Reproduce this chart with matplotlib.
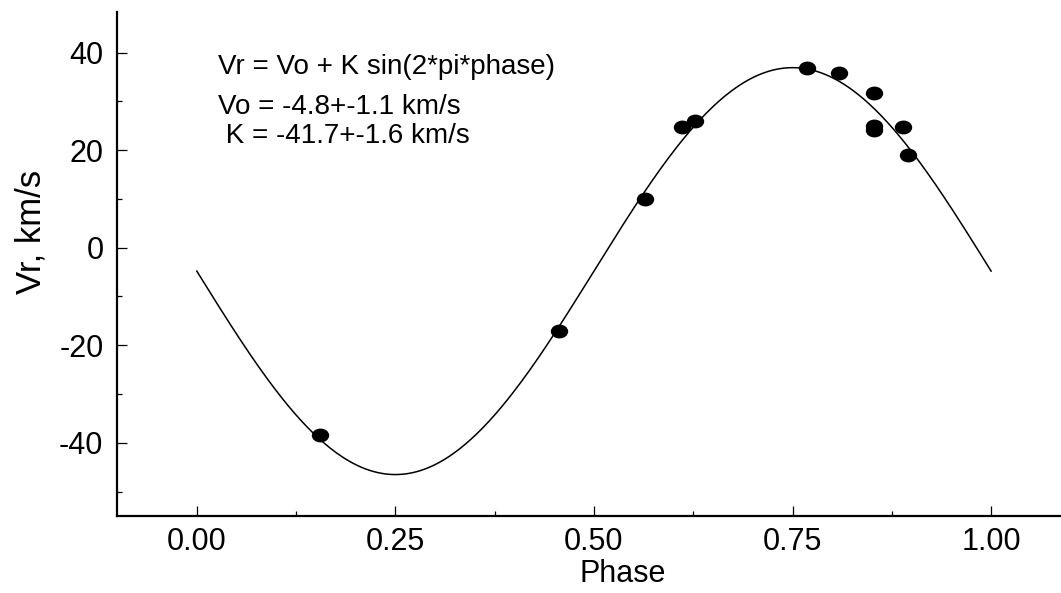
import numpy as np
import matplotlib
matplotlib.use("Agg")
import matplotlib.pyplot as plt
from matplotlib.path import Path
from matplotlib.ticker import MultipleLocator, FormatStrFormatter

# observed radial velocities ###################################################
phase_obs = [0.155, 0.456, 0.564, 0.611, 0.627, 0.768, 0.808, 0.853, 0.853, 0.853, 0.889, 0.895]
vr_obs = [-38.4, -17.1, 10.0, 24.7, 26.0, 36.8, 35.9, 31.8, 25.0, 24.2, 24.8, 18.9]

# fit parameters ###############################################################
Vo = -4.8
K = -41.7

fit_lines = ["Vr = Vo + K sin(2*pi*phase)",
             "Vo = -4.8+-1.1 km/s",
             " K = -41.7+-1.6 km/s"]

plt.rcParams['font.family'] = ['Liberation Sans', 'DejaVu Sans']
plt.rcParams['axes.unicode_minus'] = False

fig = plt.figure(figsize=(10.61, 5.93), dpi=100)
ax = fig.add_axes([0.1106, 0.1298, 0.8894, 0.8499])

# courbe du fit
ph = np.linspace(0, 1, 400)
ax.plot(ph, Vo + K*np.sin(2*np.pi*ph), color='black', lw=1.1)

# points en ellipse (un peu plus larges que hauts)
circ = Path.unit_circle()
ell = Path(circ.vertices*np.array([1.0, 0.78]), circ.codes)
ax.plot(phase_obs, vr_obs, linestyle='none', marker=ell, markersize=11.5,
        color='black')

ax.set_xlim(-0.1, 1.088)
ax.set_ylim(-55.0, 48.3)
ax.set_xticks([0, 0.25, 0.5, 0.75, 1.0])
ax.xaxis.set_major_formatter(FormatStrFormatter('%.2f'))
ax.xaxis.set_minor_locator(MultipleLocator(0.125))
ax.set_yticks([-40, -20, 0, 20, 40])
ax.yaxis.set_minor_locator(MultipleLocator(10))

for side in ['top', 'right']:
    ax.spines[side].set_visible(False)
for side in ['left', 'bottom']:
    ax.spines[side].set_linewidth(1.6)

ax.tick_params(which='major', direction='in', length=7, width=0.9, labelsize=22)
ax.tick_params(axis='x', which='major', pad=8)
ax.tick_params(axis='y', which='major', pad=10)
ax.tick_params(which='minor', direction='in', length=3.3, width=0.9)

ax.set_xlabel("Phase", fontsize=22)
ax.set_ylabel("Vr, km/s", fontsize=25)
ax.xaxis.set_label_coords(0.535, -0.085)
ax.yaxis.set_label_coords(-0.0745, 0.564)

# texte du fit
ax.text(0.027, 35.7, fit_lines[0], fontsize=20, va='baseline')
ax.text(0.027, 27.5, fit_lines[1], fontsize=20, va='baseline')
ax.text(0.027, 21.4, fit_lines[2], fontsize=20, va='baseline')

fig.savefig("out.png", dpi=100)
